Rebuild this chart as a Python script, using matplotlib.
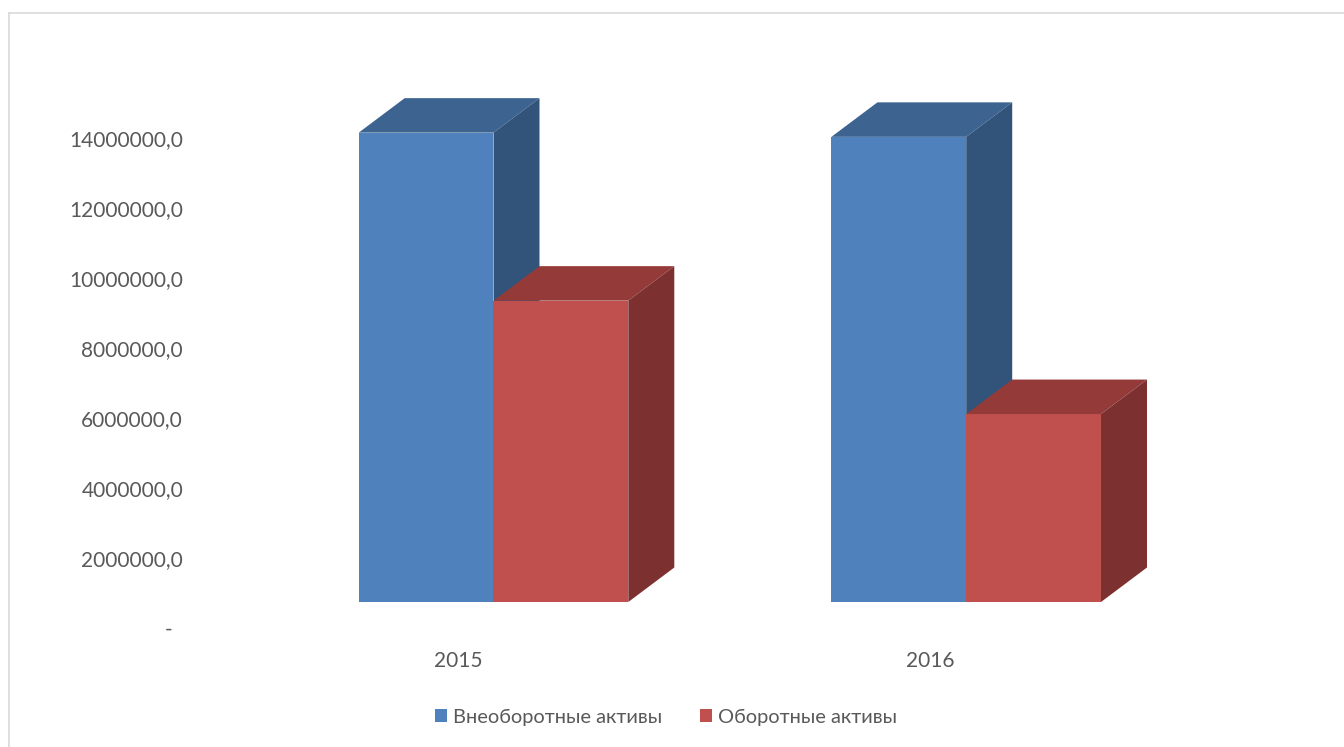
import matplotlib
matplotlib.use("Agg")
import matplotlib.pyplot as plt
from matplotlib.patches import Polygon, Patch
from matplotlib.lines import Line2D

years = ["2015", "2016"]
series = ["Внеоборотные активы", "Оборотные активы"]
values = [
    [13.41e6, 13.29e6],   # Внеоборотные активы
    [8.61e6, 5.37e6],     # Оборотные активы
]
yticks = [0, 2e6, 4e6, 6e6, 8e6, 10e6, 12e6, 14e6]
ytick_labels = ["-  ", "2000000,0", "4000000,0", "6000000,0", "8000000,0",
                "10000000,0", "12000000,0", "14000000,0"]

front_colors = ["#4F81BD", "#C0504D"]
top_colors = ["#3D6490", "#943B3A"]
side_colors = ["#32547A", "#7C302F"]

W, H = 1344, 747
plt.rcParams['font.family'] = ['Lato', 'Noto Sans', 'DejaVu Sans']
fig = plt.figure(figsize=(W / 100, H / 100), dpi=100)

# axes box in pixels
L, R, T, B = 190, 1240, 60, 640
ax = fig.add_axes([L / W, (H - B) / H, (R - L) / W, (B - T) / H])

# pixel -> data scales
cat_px = 472.7          # px per category
val_px = 35.0 / 1e6     # px per unit value
x0_px, y0_px = 458, 628  # first category tick / zero line
ax.set_xlim((L - x0_px) / cat_px, (R - x0_px) / cat_px)
ax.set_ylim((y0_px - B) / val_px, (y0_px - T) / val_px)

bw = 134.8 / cat_px
ox, oy = 35.5 / cat_px, 26 / val_px    # front face offset from axis plane
dx, dy = 46 / cat_px, 34.5 / val_px    # depth of the boxes

for s in range(len(series)):
    for i in range(len(years)):
        v = values[s][i]
        x0 = i + ox - bw + s * bw
        ax.bar(x0, v, width=bw, bottom=oy, align='edge', color=front_colors[s],
               edgecolor='none', zorder=2 + s)
        top = [(x0, oy + v), (x0 + bw, oy + v), (x0 + bw + dx, oy + v + dy), (x0 + dx, oy + v + dy)]
        side = [(x0 + bw, oy), (x0 + bw + dx, oy + dy), (x0 + bw + dx, oy + v + dy), (x0 + bw, oy + v)]
        ax.add_patch(Polygon(top, closed=True, facecolor=top_colors[s], edgecolor='none', zorder=2 + s))
        ax.add_patch(Polygon(side, closed=True, facecolor=side_colors[s], edgecolor='none', zorder=2 + s))

ax.set_xticks(range(len(years)))
ax.set_xticklabels(years)
ax.set_yticks(yticks)
ax.set_yticklabels(ytick_labels)
ax.tick_params(length=0, labelsize=15, labelcolor='#595959')
ax.tick_params(axis='y', pad=5)
ax.tick_params(axis='x', pad=8)
for sp in ax.spines.values():
    sp.set_visible(False)
ax.patch.set_visible(False)

handles = [Patch(facecolor=c, edgecolor='none') for c in front_colors]
fig.legend(handles, series, loc='center', bbox_to_anchor=(666 / W, (H - 717) / H),
           ncol=2, frameon=False, fontsize=14.4, labelcolor='#595959',
           handlelength=0.62, handleheight=0.62, handletextpad=0.3, columnspacing=1.9)

# chart area border (top and left edges visible)
fig.add_artist(Line2D([8.5 / W, 8.5 / W], [0, (H - 12.5) / H], color='#D9D9D9', lw=1.2))
fig.add_artist(Line2D([8.5 / W, 1], [(H - 12.5) / H, (H - 12.5) / H], color='#D9D9D9', lw=1.2))

fig.savefig("out.png", dpi=100)
